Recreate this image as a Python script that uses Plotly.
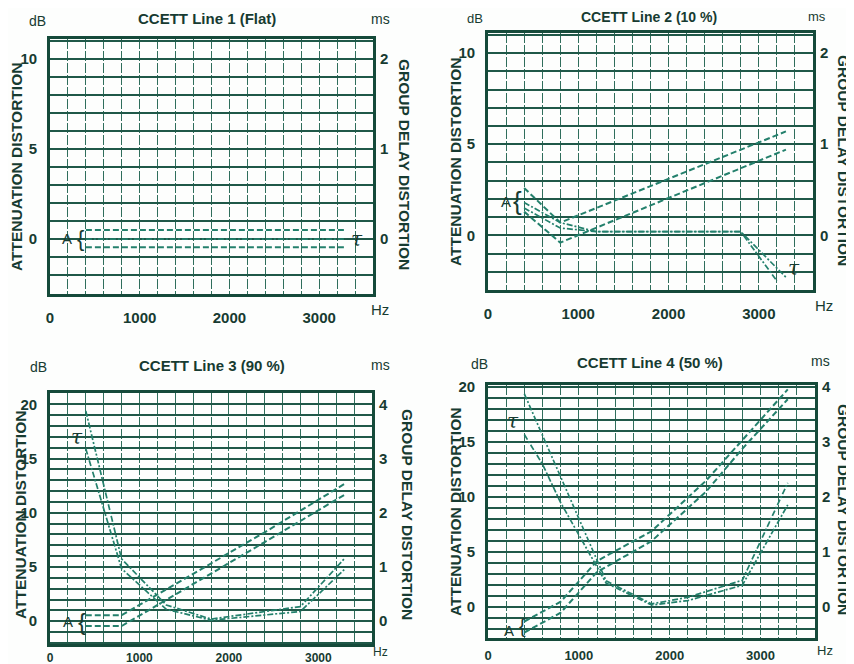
import plotly.graph_objects as go

# the page body adds an 8 px margin, so the figure is shifted by OFF
OFF = 8
W, H = 854 - OFF, 664 - OFF

# ---------------- data ----------------
freq_ticks = list(range(0, 3601, 200))
freq_labels = [str(v) if v % 1000 == 0 else "" for v in freq_ticks]

panel_titles = ["CCETT Line 1 (Flat)", "CCETT Line 2 (10 %)",
                "CCETT Line 3 (90 %)", "CCETT Line 4 (50 %)"]

# Panel 1 (flat)
p1_a_hz = [400, 3300]
p1_a_upper = [0.5, 0.5]
p1_a_lower = [-0.45, -0.45]
p1_tau_hz = [400, 3300]
p1_tau = [0.0, 0.0]

# Panel 2 (10 %)
p2_a_hz = [400, 800, 3300]
p2_a_upper = [2.6, 0.7, 5.7]
p2_a_lower = [1.3, -0.4, 4.7]
p2_tau_a_hz = [400, 800, 1200, 2800, 3200]
p2_tau_a = [0.36, 0.14, 0.04, 0.04, -0.5]
p2_tau_b_hz = [400, 800, 1200, 2800, 3300]
p2_tau_b = [0.30, 0.08, 0.04, 0.04, -0.46]

# Panel 3 (90 %)
p3_a_hz = [400, 800, 2400, 3300]
p3_a_upper = [0.55, 0.55, 8.2, 12.7]
p3_a_lower = [-0.45, -0.45, 7.3, 11.7]
p3_tau_upper_hz = [400, 800, 1300, 1800, 2800, 3300]
p3_tau_upper = [3.88, 1.15, 0.30, 0.04, 0.27, 1.17]
p3_tau_lower_hz = [400, 800, 1300, 1800, 2000, 2800, 3300]
p3_tau_lower = [3.18, 0.97, 0.22, 0.02, 0.05, 0.18, 0.97]

# Panel 4 (50 %)
p4_a_hz = [400, 800, 1200, 1800, 2400, 2800, 3300]
p4_a_upper = [-1.3, 0.5, 4.2, 6.9, 11.5, 15.2, 19.8]
p4_a_lower = [-2.3, -0.5, 3.2, 6.0, 10.5, 14.4, 18.9]
p4_tau_upper_hz = [400, 1200, 1300, 1800, 2200, 2800, 3300]
p4_tau_upper = [3.88, 0.86, 0.48, 0.06, 0.18, 0.49, 2.26]
p4_tau_lower_hz = [400, 600, 800, 1200, 1300, 1800, 2200, 2800, 3300]
p4_tau_lower = [3.14, 2.6, 1.9, 0.74, 0.44, 0.04, 0.12, 0.40, 1.86]

# ---------------- style ----------------
GRID_H = "#1f5848"
GRID_V = "#2f6e5c"
FRAME = "#154a3a"
CURVE = "#23806c"
TEXT = "#173b31"
FONT = "Liberation Sans"


def px(x):
    return (x - OFF) / W


def py(y):
    return 1 - (y - OFF) / H


# panel geometry in window pixels: (left, right, top, bottom), dB range, x-label standoff/size
panels = [
    dict(box=(50, 373, 39, 294), yr=(-3.05, 11.1), xs=8, fs=15),
    dict(box=(488, 813, 33, 290), yr=(-3.0, 11.1), xs=8, fs=15),
    dict(box=(50, 372, 393, 644), yr=(-2.1, 21.05), xs=1, fs=12),
    dict(box=(488, 815, 385, 638), yr=(-2.8, 20.2), xs=4, fs=13),
]

fig = go.Figure()
layout = dict(
    width=W, height=H, margin=dict(l=0, r=0, t=0, b=0, pad=0),
    paper_bgcolor="#fdfefd", plot_bgcolor="#fdfefd",
    showlegend=False, font=dict(family=FONT, color=TEXT),
)

for i, p in enumerate(panels, start=1):
    l, r, t, b = p["box"]
    y0, y1 = p["yr"]
    xa = "xaxis" if i == 1 else f"xaxis{i}"
    yl_n = 2 * i - 1
    yr_n = 2 * i
    yl = "yaxis" if yl_n == 1 else f"yaxis{yl_n}"
    yr = f"yaxis{yr_n}"
    xref = "x" if i == 1 else f"x{i}"
    ylref = "y" if yl_n == 1 else f"y{yl_n}"

    layout[xa] = dict(
        domain=[px(l), px(r)], range=[0, 3600], anchor=ylref, automargin=False,
        tickvals=freq_ticks, ticktext=freq_labels,
        showgrid=True, gridcolor=GRID_V, gridwidth=1.4, griddash="10px,2px",
        zeroline=False, showline=True, linecolor=FRAME, linewidth=2.6, mirror=True,
        ticks="", ticklabelstandoff=p["xs"],
        tickfont=dict(family=FONT, size=p["fs"], color=TEXT, weight="bold"),
        fixedrange=True,
    )
    dbt = list(range(int(round(y0 + 0.49)), int(y1) + 1))
    layout[yl] = dict(
        domain=[py(b), py(t)], range=[y0, y1], anchor=xref, automargin=False,
        tickvals=dbt, ticktext=[str(v) if v % 5 == 0 and v >= 0 else "" for v in dbt],
        showgrid=True, gridcolor=GRID_H, gridwidth=2,
        zeroline=False, showline=True, linecolor=FRAME, linewidth=2.6, mirror=True,
        ticks="", ticklabelstandoff=7,
        tickfont=dict(family=FONT, size=15, color=TEXT, weight="bold"),
        fixedrange=True,
    )
    mst = list(range(0, int(y1 / 5) + 1))
    layout[yr] = dict(
        range=[y0 / 5, y1 / 5], overlaying=ylref, anchor=xref, side="right",
        automargin=False,
        tickvals=mst, ticktext=[str(v) for v in mst],
        showgrid=False, zeroline=False, showline=False, ticks="",
        ticklabelstandoff=6,
        tickfont=dict(family=FONT, size=15, color=TEXT, weight="bold"),
        fixedrange=True,
    )

fig.update_layout(**layout)


def a_line(xs, ys, i):
    xref = "x" if i == 1 else f"x{i}"
    yref = "y" if i == 1 else f"y{2 * i - 1}"
    fig.add_trace(go.Scatter(x=xs, y=ys, mode="lines", xaxis=xref, yaxis=yref,
                             line=dict(color=CURVE, width=2, dash="6px,3px"),
                             hoverinfo="skip"))


def tau_line(xs, ys, i):
    xref = "x" if i == 1 else f"x{i}"
    yref = f"y{2 * i}"
    fig.add_trace(go.Scatter(x=xs, y=ys, mode="lines", xaxis=xref, yaxis=yref,
                             line=dict(color=CURVE, width=1.7, dash="6px,2px,2px,2px"),
                             hoverinfo="skip"))


a_line(p1_a_hz, p1_a_upper, 1)
a_line(p1_a_hz, p1_a_lower, 1)
tau_line(p1_tau_hz, p1_tau, 1)

a_line(p2_a_hz, p2_a_upper, 2)
a_line(p2_a_hz, p2_a_lower, 2)
tau_line(p2_tau_a_hz, p2_tau_a, 2)
tau_line(p2_tau_b_hz, p2_tau_b, 2)

a_line(p3_a_hz, p3_a_upper, 3)
a_line(p3_a_hz, p3_a_lower, 3)
tau_line(p3_tau_upper_hz, p3_tau_upper, 3)
tau_line(p3_tau_lower_hz, p3_tau_lower, 3)

a_line(p4_a_hz, p4_a_upper, 4)
a_line(p4_a_hz, p4_a_lower, 4)
tau_line(p4_tau_upper_hz, p4_tau_upper, 4)
tau_line(p4_tau_lower_hz, p4_tau_lower, 4)

# ---------------- text ----------------
ann = []


def text(x, y, s, size=13, bold=True, angle=0, family=FONT):
    ann.append(dict(x=px(x), y=py(y), xref="paper", yref="paper", text=s,
                    showarrow=False, textangle=angle, xanchor="center", yanchor="middle",
                    font=dict(family=family, size=size, color=TEXT,
                              weight="bold" if bold else "normal")))


title_pos = [(207, 19), (649, 17), (212, 365), (650, 362)]
title_size = [15, 14, 15, 15]
db_pos = [(37, 21), (475, 18), (38, 367), (479, 364)]
ms_pos = [(380, 19), (817, 17), (380, 365), (820, 361)]
hz_pos = [(380, 309), (824, 305), (380, 652), (825, 650)]
hz_size = [15, 15, 12, 13]
lt_pos = [(16, 167), (455, 162), (20, 515), (455, 512)]
rt_pos = [(405, 164), (844, 160), (408, 514), (844, 509)]

for k in range(4):
    text(*title_pos[k], panel_titles[k], size=title_size[k])
    text(*db_pos[k], "dB", size=14 if k != 1 else 13, bold=False)
    text(*ms_pos[k], "ms", size=14 if k != 1 else 13, bold=False)
    text(*hz_pos[k], "Hz", size=hz_size[k], bold=False)
    text(*lt_pos[k], "ATTENUATION DISTORTION", size=15.5, angle=-90)
    text(*rt_pos[k], "GROUP DELAY DISTORTION", size=15.5, angle=90)

# curve labels
TAU = "<i>τ</i>"
text(67, 239, "A", size=15, bold=False)
text(80, 239, "{", size=22, bold=False)
text(357, 239, TAU, size=20, bold=False, family="DejaVu Serif")

text(506, 202, "A", size=15, bold=False)
text(517, 201, "{", size=26, bold=False)
text(794, 268, TAU, size=20, bold=False, family="DejaVu Serif")

text(77, 437, TAU, size=20, bold=False, family="DejaVu Serif")
text(68, 621, "A", size=15, bold=False)
text(82, 621, "{", size=24, bold=False)

text(513, 421, TAU, size=20, bold=False, family="DejaVu Serif")
text(509, 630, "A", size=15, bold=False)
text(522, 626, "{", size=20, bold=False)

fig.update_layout(annotations=ann)

fig.write_html("out.html")
